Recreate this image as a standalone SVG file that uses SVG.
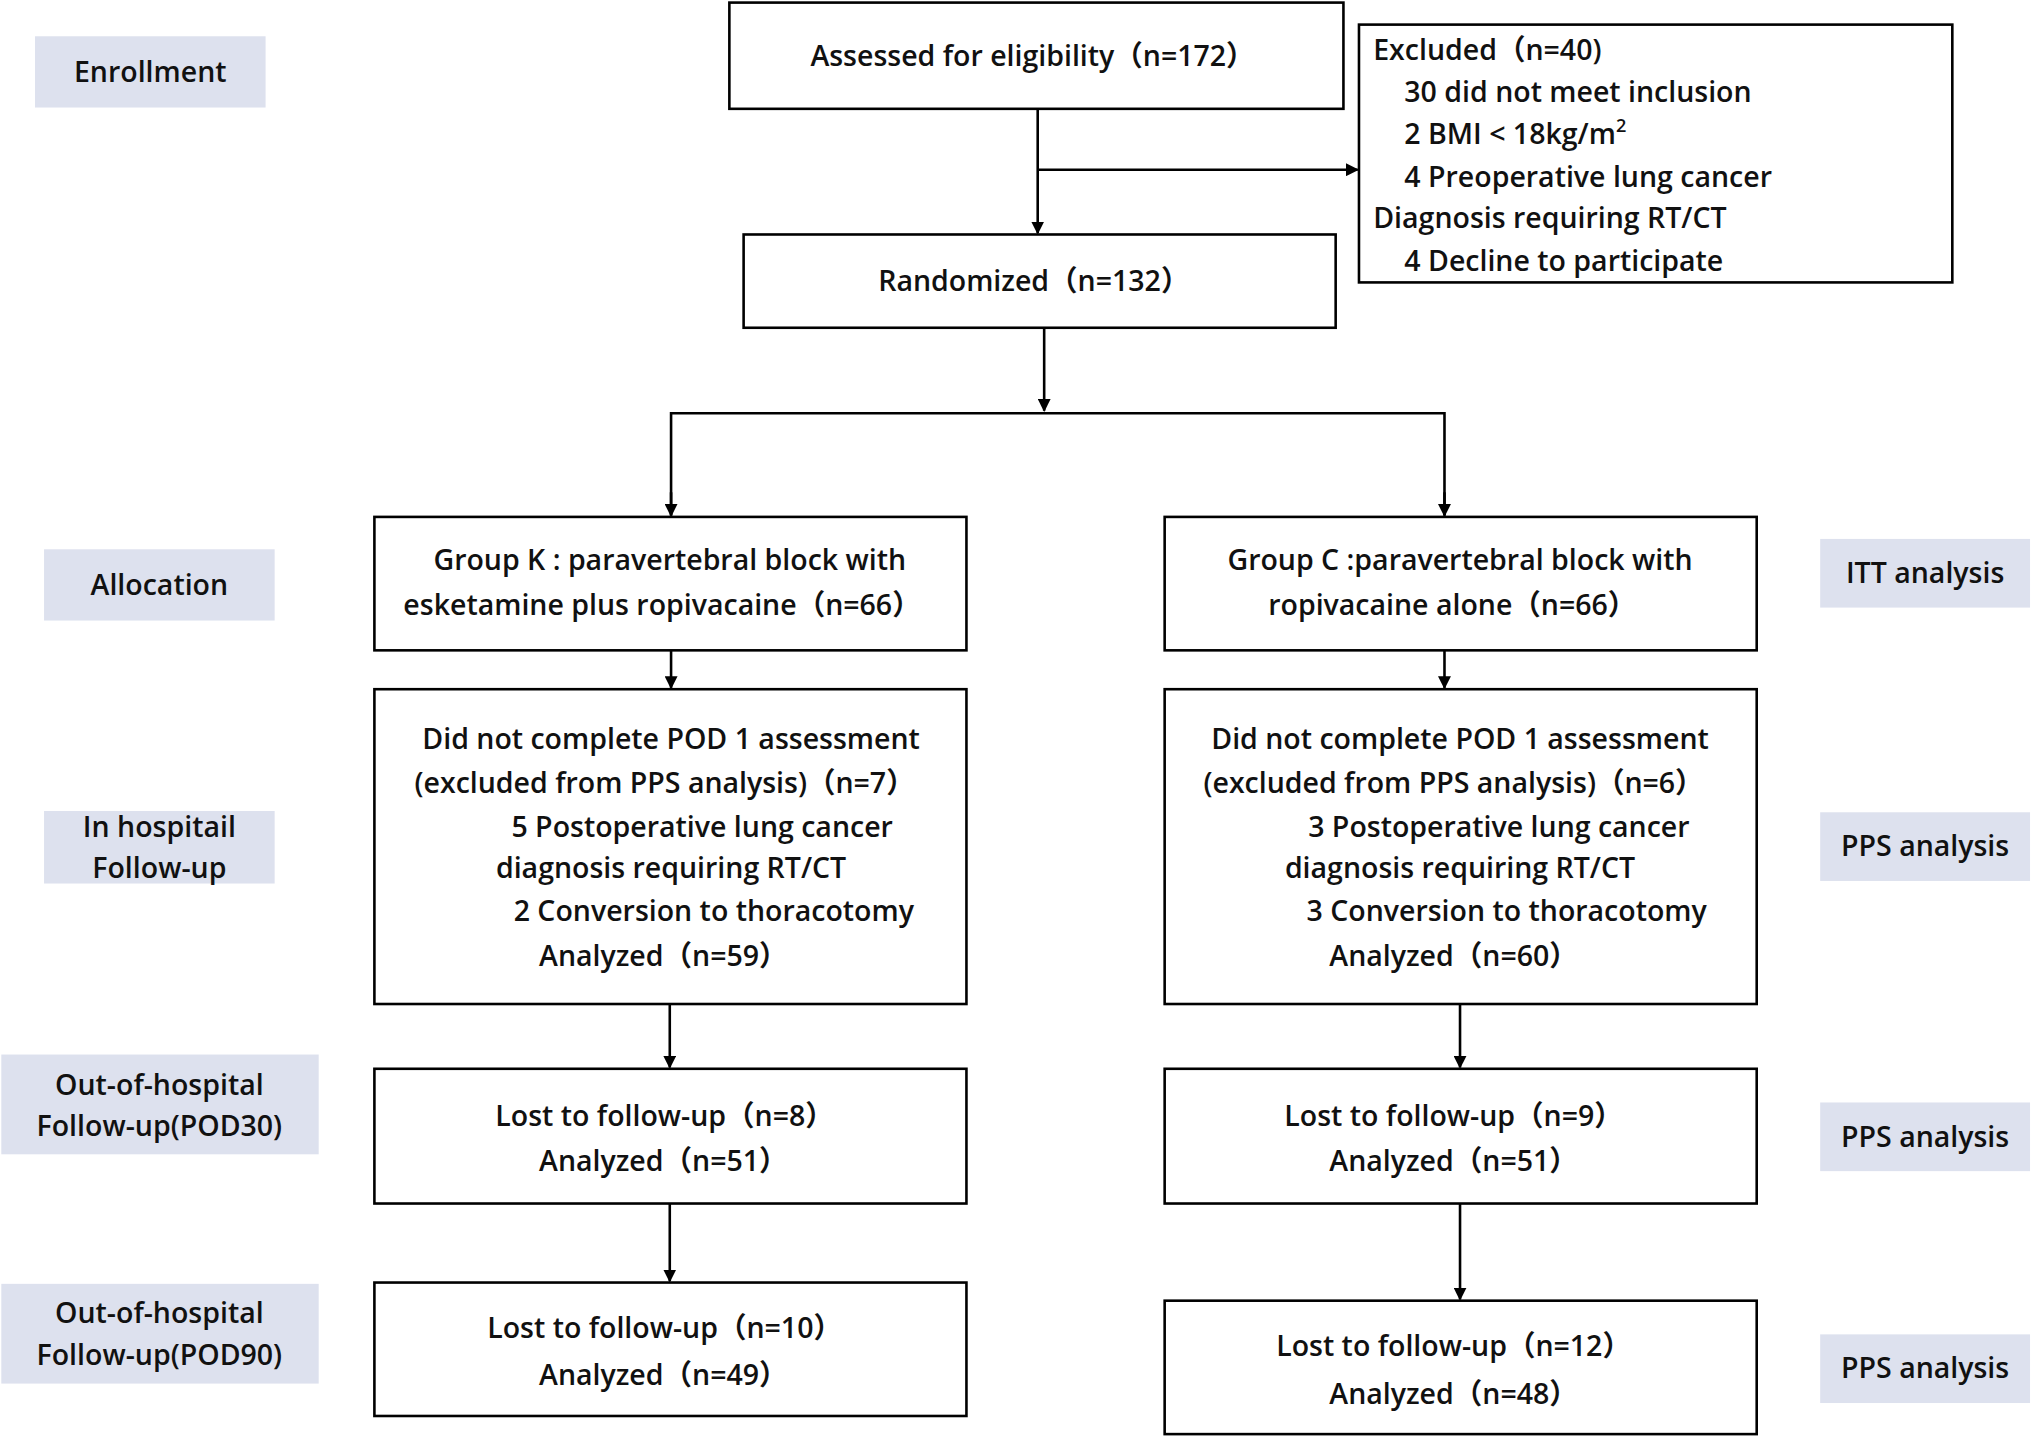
<svg xmlns="http://www.w3.org/2000/svg" width="2031" height="1437" viewBox="0 0 2031 1437">
<defs>
<marker id="ah" markerWidth="10" markerHeight="10" refX="9" refY="5" orient="auto" markerUnits="userSpaceOnUse"><path d="M0,0 L10,5 L0,10 z" fill="#000"/></marker>
<style>
.b{fill:#fff;stroke:#000;stroke-width:2}
.l{fill:#dde1ee}
text{font-family:"Open Sans","Noto Sans CJK SC",sans-serif;font-weight:600;font-size:22px;fill:#111}
.c{text-anchor:middle}
.k{stroke:#000;stroke-width:2;fill:none}
</style>
</defs>
<rect width="2031" height="1437" fill="#fff"/>
<g transform="scale(1.2955)">
<g id="labels">
<rect class="l" x="27" y="28" width="178" height="55"/><text class="c" x="116" y="63">Enrollment</text>
<rect class="l" x="34" y="424" width="178" height="55"/><text class="c" x="123" y="459">Allocation</text>
<rect class="l" x="34" y="626" width="178" height="56"/><text class="c" x="123" y="646">In hospitail</text><text class="c" x="123" y="678">Follow-up</text>
<rect class="l" x="1" y="814" width="245" height="77"/><text class="c" x="123" y="845">Out-of-hospital</text><text class="c" x="123" y="877">Follow-up(POD30)</text>
<rect class="l" x="1" y="991" width="245" height="77"/><text class="c" x="123" y="1021">Out-of-hospital</text><text class="c" x="123" y="1054">Follow-up(POD90)</text>
<rect class="l" x="1405" y="416" width="162" height="53"/><text class="c" x="1486" y="450">ITT analysis</text>
<rect class="l" x="1405" y="627" width="162" height="53"/><text class="c" x="1486" y="661">PPS analysis</text>
<rect class="l" x="1405" y="851" width="162" height="53"/><text class="c" x="1486" y="885">PPS analysis</text>
<rect class="l" x="1405" y="1030" width="162" height="53"/><text class="c" x="1486" y="1064">PPS analysis</text>
</g>
<g id="assessed"><rect class="b" x="563" y="2" width="474" height="82"/><text class="c" x="797" y="51">Assessed for eligibility（n=172）</text></g>
<g id="excluded"><rect class="b" x="1049" y="19" width="458" height="199"/>
<text x="1060" y="46">Excluded（n=40)</text>
<text x="1084" y="79">30 did not meet inclusion</text>
<text x="1084" y="111">2 BMI &lt; 18kg/m<tspan font-size="14" dy="-9">2</tspan></text>
<text x="1084" y="144">4 Preoperative lung cancer</text>
<text x="1060" y="176">Diagnosis requiring RT/CT</text>
<text x="1084" y="209">4 Decline to participate</text></g>
<g id="randomized"><rect class="b" x="574" y="181" width="457" height="72"/><text class="c" x="798" y="225">Randomized（n=132）</text></g>
<g id="groupK"><rect class="b" x="289" y="399" width="457" height="103"/><text class="c" x="517" y="440">Group K : paravertebral block with</text><text class="c" x="511" y="475">esketamine plus ropivacaine（n=66）</text></g>
<g id="groupC"><rect class="b" x="899" y="399" width="457" height="103"/><text class="c" x="1127" y="440">Group C :paravertebral block with</text><text class="c" x="1121" y="475">ropivacaine alone（n=66）</text></g>
<g id="podK"><rect class="b" x="289" y="532" width="457" height="243"/>
<text class="c" x="518" y="578">Did not complete POD 1  assessment</text>
<text class="c" x="513" y="612">(excluded from PPS analysis)（n=7）</text>
<text class="c" x="542" y="646">5 Postoperative lung cancer</text>
<text class="c" x="518" y="678">diagnosis requiring RT/CT</text>
<text class="c" x="551" y="711">2 Conversion to thoracotomy</text>
<text class="c" x="512" y="746">Analyzed（n=59）</text></g>
<g id="podC"><rect class="b" x="899" y="532" width="457" height="243"/>
<text class="c" x="1127" y="578">Did not complete POD 1 assessment</text>
<text class="c" x="1122" y="612">(excluded from PPS analysis)（n=6）</text>
<text class="c" x="1157" y="646">3 Postoperative lung cancer</text>
<text class="c" x="1127" y="678">diagnosis requiring RT/CT</text>
<text class="c" x="1163" y="711">3 Conversion to thoracotomy</text>
<text class="c" x="1122" y="746">Analyzed（n=60）</text></g>
<g id="lost30K"><rect class="b" x="289" y="825" width="457" height="104"/><text class="c" x="513" y="869">Lost to follow-up（n=8）</text><text class="c" x="512" y="904">Analyzed（n=51）</text></g>
<g id="lost30C"><rect class="b" x="899" y="825" width="457" height="104"/><text class="c" x="1122" y="869">Lost to follow-up（n=9）</text><text class="c" x="1122" y="904">Analyzed（n=51）</text></g>
<g id="lost90K"><rect class="b" x="289" y="990" width="457" height="103"/><text class="c" x="513" y="1033">Lost to follow-up（n=10）</text><text class="c" x="512" y="1069">Analyzed（n=49）</text></g>
<g id="lost90C"><rect class="b" x="899" y="1004" width="457" height="103"/><text class="c" x="1122" y="1047">Lost to follow-up（n=12）</text><text class="c" x="1122" y="1084">Analyzed（n=48）</text></g>
<g id="connectors">
<line class="k" x1="801" y1="84" x2="801" y2="180" marker-end="url(#ah)"/>
<line class="k" x1="801" y1="131" x2="1048" y2="131" marker-end="url(#ah)"/>
<line class="k" x1="806" y1="253" x2="806" y2="317" marker-end="url(#ah)"/>
<polyline class="k" points="518,398 518,319 1115,319 1115,398"/>
<line class="k" x1="518" y1="380" x2="518" y2="398" marker-end="url(#ah)"/>
<line class="k" x1="1115" y1="380" x2="1115" y2="398" marker-end="url(#ah)"/>
<line class="k" x1="518" y1="502" x2="518" y2="531" marker-end="url(#ah)"/>
<line class="k" x1="1115" y1="502" x2="1115" y2="531" marker-end="url(#ah)"/>
<line class="k" x1="517" y1="775" x2="517" y2="824" marker-end="url(#ah)"/>
<line class="k" x1="1127" y1="775" x2="1127" y2="824" marker-end="url(#ah)"/>
<line class="k" x1="517" y1="929" x2="517" y2="989" marker-end="url(#ah)"/>
<line class="k" x1="1127" y1="929" x2="1127" y2="1003" marker-end="url(#ah)"/>
</g>
</g>
</svg>
